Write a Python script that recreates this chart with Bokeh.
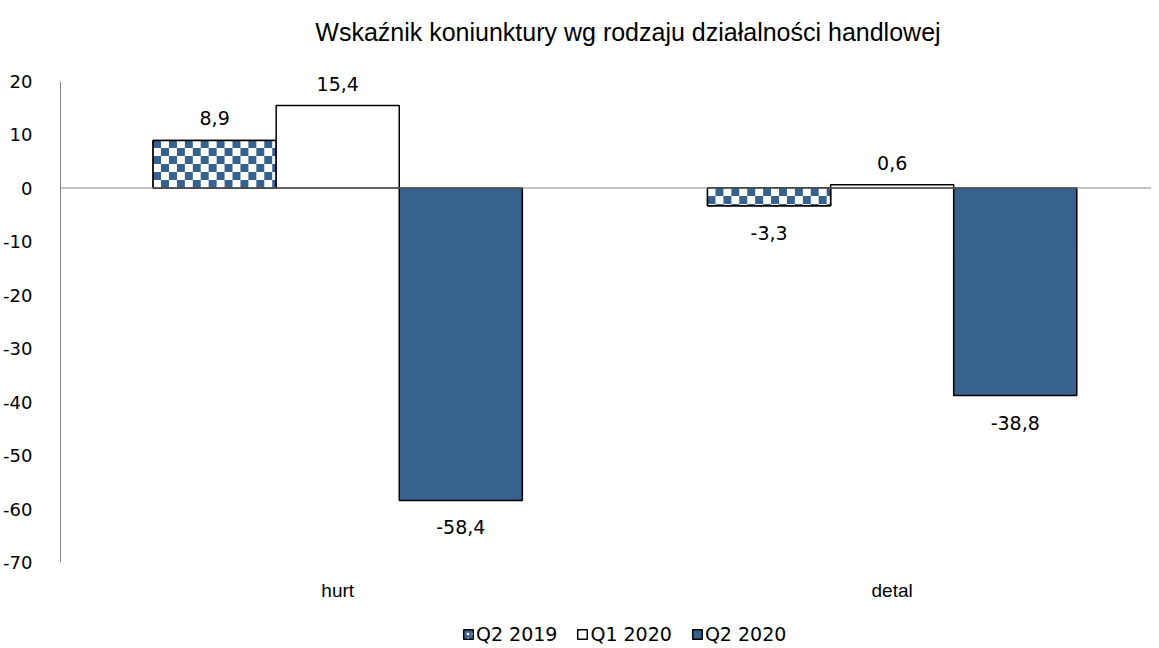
import math
from bokeh.plotting import figure
from bokeh.models import (Range1d, FixedTicker, Span, Legend, LegendItem, ColumnDataSource)
from bokeh.core.properties import value
from bokeh.embed import file_html
from bokeh.resources import INLINE

# ---- data ----
categories = ["hurt", "detal"]
series = ["Q2 2019", "Q1 2020", "Q2 2020"]
q2_2019 = [8.9, -3.3]
q1_2020 = [15.4, 0.6]
q2_2020 = [-58.4, -38.8]
title_text = "Wskaźnik koniunktury wg rodzaju działalności handlowej"
y_ticks = [20, 10, 0, -10, -20, -30, -40, -50, -60, -70]

BLUE = "#37618F"
AXIS_GRAY = "#868686"
NUM_FONT = "DejaVu Sans"
TXT_FONT = "Liberation Sans"

W, H = 1151, 645
PX_PER_X = 558.5            # pixels per category step
PX_PER_Y = 481.5 / 90.0     # pixels per y unit
Y_TOP_PAD = 80.5            # px above the 20 line
Y_BOT_PAD = H - 562         # px below the -70 line
y_start = -70 - Y_BOT_PAD / PX_PER_Y
y_end = 20 + Y_TOP_PAD / PX_PER_Y
x_end = -0.5 + (W - 52) / PX_PER_X

p = figure(width=W, height=H, output_backend="svg", toolbar_location=None,
           x_range=Range1d(-0.5, x_end), y_range=Range1d(y_start, y_end),
           min_border_left=52, min_border_right=0, min_border_top=0,
           min_border_bottom=0, x_axis_location=None)
p.outline_line_color = None
p.xgrid.visible = False
p.ygrid.visible = False

bw = 0.222
xs = list(range(len(categories)))
all_vals = [q2_2019, q1_2020, q2_2020]
offsets = [-bw, 0.0, bw]

bar_r = []
# series 1: hatched base (shown in legend), covered by white + checker cells
src0 = ColumnDataSource(dict(x=[x + offsets[0] for x in xs], top=q2_2019))
bar_r.append(p.vbar(x="x", top="top", bottom=0, width=bw, source=src0,
                    line_color="black", line_width=1.5, fill_color="white",
                    hatch_pattern="+", hatch_color=BLUE, hatch_scale=5, hatch_weight=2.5))
p.vbar(x="x", top="top", bottom=0, width=bw, source=src0, line_color=None, fill_color="white")

cell = 8.0
dx, dy = cell / PX_PER_X, cell / PX_PER_Y
cl, cr, cb, ct = [], [], [], []
for x, v in zip(xs, q2_2019):
    xl = x + offsets[0] - bw / 2
    xr = xl + bw
    nx = math.ceil(bw / dx)
    ny = math.ceil(abs(v) / dy)
    sgn = 1 if v >= 0 else -1
    for i in range(nx):
        for j in range(ny):
            if (i + j) % 2 == 0:
                continue
            x0, x1 = xl + i * dx, min(xl + (i + 1) * dx, xr)
            y0 = sgn * j * dy
            y1 = sgn * min((j + 1) * dy, abs(v))
            cl.append(x0); cr.append(x1)
            cb.append(min(y0, y1)); ct.append(max(y0, y1))
p.quad(left=cl, right=cr, bottom=cb, top=ct, fill_color=BLUE, line_color=None)
p.vbar(x="x", top="top", bottom=0, width=bw, source=src0,
       line_color="black", line_width=1.5, fill_color=None)

# series 2 and 3
for vals, off, fc in zip(all_vals[1:], offsets[1:], ["white", BLUE]):
    src = ColumnDataSource(dict(x=[x + off for x in xs], top=vals))
    bar_r.append(p.vbar(x="x", top="top", bottom=0, width=bw, source=src,
                        line_color="black", line_width=1.5, fill_color=fc))

# zero line
p.add_layout(Span(location=0, dimension="width", line_color=AXIS_GRAY, line_width=1))

# data labels
pos_x, pos_y, pos_t, neg_x, neg_y, neg_t = [], [], [], [], [], []
for vals, off in zip(all_vals, offsets):
    for x, v in zip(xs, vals):
        lab = f"{v:.1f}".replace(".", ",")
        if v >= 0:
            pos_x.append(x + off); pos_y.append(v); pos_t.append(lab)
        else:
            neg_x.append(x + off); neg_y.append(v); neg_t.append(lab)
p.text(x=pos_x, y=pos_y, text=pos_t, text_align="center", text_baseline="middle",
       y_offset=-22, text_font=value(NUM_FONT), text_font_size="19px", text_color="black")
p.text(x=neg_x, y=neg_y, text=neg_t, text_align="center", text_baseline="middle",
       y_offset=27, text_font=value(NUM_FONT), text_font_size="19px", text_color="black")

# category labels (below the axis bottom)
p.text(x=xs, y=[-70] * len(xs), text=categories, text_align="center",
       text_baseline="middle", y_offset=28, text_font=value(TXT_FONT),
       text_font_size="19px", text_color="black")

# title
p.text(x=[0.5], y=[20], text=[title_text], text_align="center", text_baseline="middle",
       x_offset=13, y_offset=-49, text_font=value(TXT_FONT), text_font_size="25px",
       text_color="black")

# y axis
p.yaxis.ticker = FixedTicker(ticks=y_ticks)
p.yaxis.bounds = (-70, 20)
p.yaxis.major_label_overrides = {t: str(t) for t in y_ticks}
p.yaxis.axis_line_color = AXIS_GRAY
p.yaxis.major_tick_line_color = None
p.yaxis.minor_tick_line_color = None
p.yaxis.major_label_standoff = 22
p.yaxis.major_label_text_font = NUM_FONT
p.yaxis.major_label_text_font_size = "18px"
p.yaxis.major_label_text_color = "black"

legend = Legend(items=[LegendItem(label=s, renderers=[r]) for s, r in zip(series, bar_r)],
                orientation="horizontal", location=(402, 0), padding=0, margin=0,
                spacing=19, glyph_width=12, glyph_height=12, label_standoff=2,
                label_height=14, label_text_font=NUM_FONT, label_text_font_size="19px",
                label_text_color="black",
                border_line_color=None, background_fill_alpha=0)
p.add_layout(legend, "center")

open("out.html", "w").write(file_html(p, INLINE))
